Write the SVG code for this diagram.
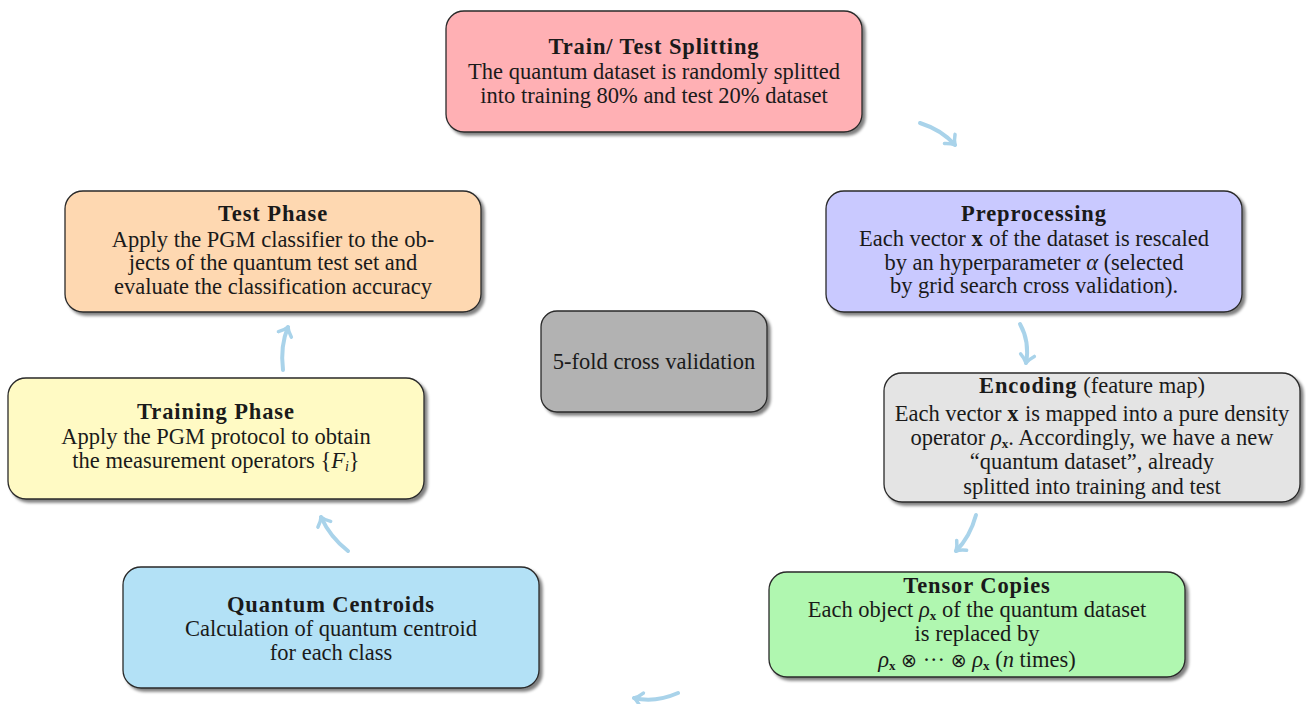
<svg xmlns="http://www.w3.org/2000/svg" width="1306" height="704" viewBox="0 0 1306 704">
<style>
  .box { stroke: #2a2a2a; stroke-width: 1.3; }
  .t { font-family: "Liberation Serif", "DejaVu Serif", serif; font-size: 22.5px; fill: #1a1a1a; text-anchor: middle; }
  .b { font-weight: bold; letter-spacing: 0.9px; }
  .i { font-style: italic; }
  .sub { font-size: 13px; font-weight: bold; }
  .op { font-family: "DejaVu Sans", sans-serif; font-size: 19px; }
  .arr { fill: none; stroke: #a9d3ea; stroke-width: 4; stroke-linecap: round; marker-end: url(#ah); }
</style>
<defs>
  <filter id="sh" x="-10%" y="-10%" width="125%" height="130%">
    <feGaussianBlur in="SourceAlpha" stdDeviation="1.5"/>
    <feOffset dx="3" dy="3" result="o"/>
    <feComponentTransfer><feFuncA type="linear" slope="0.5"/></feComponentTransfer>
    <feMerge><feMergeNode/><feMergeNode in="SourceGraphic"/></feMerge>
  </filter>
  <marker id="ah" markerUnits="userSpaceOnUse" markerWidth="20" markerHeight="20" refX="10" refY="10" orient="auto">
    <path d="M2,3 Q6,8 10,10 Q6,12 2,17" fill="none" stroke="#a9d3ea" stroke-width="3.5" stroke-linecap="round" stroke-linejoin="round"/>
  </marker>
</defs>
<rect width="1306" height="704" fill="#ffffff"/>

<g id="connectors">
  <path class="arr" d="M920,123 Q942,130 955,145"/>
  <path class="arr" d="M1020,324 Q1030,342 1026,363"/>
  <path class="arr" d="M976,515 Q970,537 956,551"/>
  <path class="arr" d="M678,693 Q655,703 634,698"/>
  <path class="arr" d="M348,551 Q330,537 321,517"/>
  <path class="arr" d="M283,370 Q280,346 288,327"/>
</g>

<g id="train-test-splitting">
  <rect class="box" x="446" y="11" width="416" height="121" rx="18" fill="#ffb0b4" filter="url(#sh)"/>
  <text class="t" x="654" y="54"><tspan class="b">Train/ Test Splitting</tspan></text>
  <text class="t" x="654" y="79">The quantum dataset is randomly splitted</text>
  <text class="t" x="654" y="103">into training 80% and test 20% dataset</text>
</g>

<g id="preprocessing">
  <rect class="box" x="826" y="191" width="416" height="121" rx="18" fill="#c9c9ff" filter="url(#sh)"/>
  <text class="t" x="1034" y="221"><tspan class="b">Preprocessing</tspan></text>
  <text class="t" x="1034" y="246">Each vector <tspan class="b">x</tspan> of the dataset is rescaled</text>
  <text class="t" x="1034" y="270">by an hyperparameter <tspan class="i">α</tspan> (selected</text>
  <text class="t" x="1034" y="293">by grid search cross validation).</text>
</g>

<g id="encoding">
  <rect class="box" x="884" y="373" width="416" height="129" rx="18" fill="#e4e4e4" filter="url(#sh)"/>
  <text class="t" x="1092" y="393"><tspan class="b">Encoding</tspan> (feature map)</text>
  <text class="t" x="1092" y="421">Each vector <tspan class="b">x</tspan> is mapped into a pure density</text>
  <text class="t" x="1092" y="445">operator <tspan class="i">ρ</tspan><tspan class="sub" dy="3">x</tspan><tspan dy="-3">. Accordingly, we have a new</tspan></text>
  <text class="t" x="1092" y="469">“quantum dataset”, already</text>
  <text class="t" x="1092" y="494">splitted into training and test</text>
</g>

<g id="tensor-copies">
  <rect class="box" x="769" y="572" width="416" height="105" rx="18" fill="#b0f7b0" filter="url(#sh)"/>
  <text class="t" x="977" y="593"><tspan class="b">Tensor Copies</tspan></text>
  <text class="t" x="977" y="617">Each object <tspan class="i">ρ</tspan><tspan class="sub" dy="3">x</tspan><tspan dy="-3"> of the quantum dataset</tspan></text>
  <text class="t" x="977" y="641">is replaced by</text>
  <text class="t" x="977" y="667"><tspan class="i">ρ</tspan><tspan class="sub" dy="3">x</tspan><tspan dy="-3"> </tspan><tspan class="op">⊗</tspan><tspan> ··· </tspan><tspan class="op">⊗</tspan><tspan> </tspan><tspan class="i">ρ</tspan><tspan class="sub" dy="3">x</tspan><tspan dy="-3"> (</tspan><tspan class="i">n</tspan> times)</text>
</g>

<g id="quantum-centroids">
  <rect class="box" x="123" y="567" width="416" height="121" rx="18" fill="#b3e1f6" filter="url(#sh)"/>
  <text class="t" x="331" y="612"><tspan class="b">Quantum Centroids</tspan></text>
  <text class="t" x="331" y="636">Calculation of quantum centroid</text>
  <text class="t" x="331" y="660">for each class</text>
</g>

<g id="training-phase">
  <rect class="box" x="8" y="378" width="416" height="121" rx="18" fill="#fffac4" filter="url(#sh)"/>
  <text class="t" x="216" y="419"><tspan class="b">Training Phase</tspan></text>
  <text class="t" x="216" y="444">Apply the PGM protocol to obtain</text>
  <text class="t" x="216" y="468">the measurement operators {<tspan class="i">F</tspan><tspan class="i" font-size="14" dy="3">i</tspan><tspan dy="-3">}</tspan></text>
</g>

<g id="test-phase">
  <rect class="box" x="65" y="191" width="416" height="121" rx="18" fill="#fed8b1" filter="url(#sh)"/>
  <text class="t" x="273" y="221"><tspan class="b">Test Phase</tspan></text>
  <text class="t" x="273" y="247">Apply the PGM classifier to the ob-</text>
  <text class="t" x="273" y="270">jects of the quantum test set and</text>
  <text class="t" x="273" y="294">evaluate the classification accuracy</text>
</g>

<g id="cross-validation">
  <rect class="box" x="541" y="311" width="226" height="101" rx="16" fill="#b2b2b2" filter="url(#sh)"/>
  <text class="t" x="654" y="369">5-fold cross validation</text>
</g>
</svg>
